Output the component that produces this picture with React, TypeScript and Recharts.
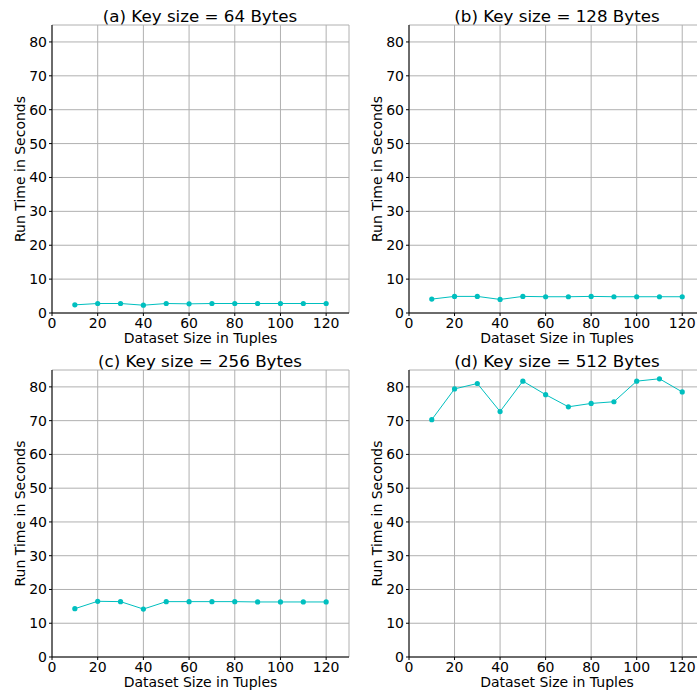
// App.tsx
// Four small line charts: run time vs dataset size, one per key size.

import React from 'react'
import { LineChart, Line, XAxis, YAxis, CartesianGrid } from 'recharts'

const datasetSizes = [10, 20, 30, 40, 50, 60, 70, 80, 90, 100, 110, 120]

const runtime64 = [2.4, 2.8, 2.8, 2.3, 2.8, 2.7, 2.8, 2.8, 2.8, 2.8, 2.8, 2.8]
const runtime128 = [4.1, 4.9, 4.9, 4.0, 4.9, 4.8, 4.8, 4.9, 4.8, 4.8, 4.8, 4.8]
const runtime256 = [14.3, 16.5, 16.4, 14.2, 16.4, 16.4, 16.4, 16.4, 16.3, 16.3, 16.3, 16.3]
const runtime512 = [70.3, 79.4, 81.0, 72.7, 81.7, 77.7, 74.1, 75.1, 75.6, 81.7, 82.4, 78.5]

const xTicks = [0, 20, 40, 60, 80, 100, 120]
const yTicks = [0, 10, 20, 30, 40, 50, 60, 70, 80]

const titles = [
  '(a) Key size = 64 Bytes',
  '(b) Key size = 128 Bytes',
  '(c) Key size = 256 Bytes',
  '(d) Key size = 512 Bytes',
]

const LINE_COLOR = '#00bfbf'
const FONT = 'DejaVu Sans, sans-serif'
const PLOT_WIDTH = 296

interface PanelProps {
  title: string
  values: number[]
  left: number
  top: number
  width: number
  height: number
  marginTop: number
  marginRight: number
  yAxisWidth: number
  xAxisHeight: number
}

function Panel({
  title,
  values,
  left,
  top,
  width,
  height,
  marginTop,
  marginRight,
  yAxisWidth,
  xAxisHeight,
}: PanelProps) {
  const data = datasetSizes.map((size, i) => ({ size, time: values[i] }))
  const tickStyle = { fontSize: 14, fill: '#000', fontFamily: FONT }

  return (
    <div style={{ position: 'absolute', left, top, width, height }}>
      <LineChart
        width={width}
        height={height}
        data={data}
        margin={{ top: marginTop, right: marginRight, bottom: 0, left: 0 }}
        style={{ fontFamily: FONT }}
      >
        <CartesianGrid stroke="#b0b0b0" strokeWidth={1} />
        <XAxis
          dataKey="size"
          type="number"
          domain={[0, 130]}
          ticks={xTicks}
          height={xAxisHeight}
          tick={tickStyle}
          tickSize={3}
          tickMargin={2}
          axisLine={{ stroke: '#000', strokeWidth: 1 }}
          tickLine={{ stroke: '#000' }}
          label={{
            value: 'Dataset Size in Tuples',
            position: 'insideBottom',
            offset: xAxisHeight - 29.5,
            fill: '#000',
            fontSize: 14,
          }}
        />
        <XAxis
          xAxisId="top"
          orientation="top"
          type="number"
          domain={[0, 130]}
          height={0}
          tick={false}
          tickLine={false}
          axisLine={{ stroke: '#000', strokeWidth: 1 }}
        />
        <YAxis
          type="number"
          domain={[0, 85]}
          ticks={yTicks}
          width={yAxisWidth}
          tick={tickStyle}
          tickSize={3}
          tickMargin={2}
          axisLine={{ stroke: '#000', strokeWidth: 1 }}
          tickLine={{ stroke: '#000' }}
          label={{
            value: 'Run Time in Seconds',
            angle: -90,
            position: 'insideLeft',
            offset: yAxisWidth - 32,
            fill: '#000',
            fontSize: 14,
            style: { textAnchor: 'middle' },
          }}
        />
        <YAxis
          yAxisId="right"
          orientation="right"
          type="number"
          domain={[0, 85]}
          width={0}
          tick={false}
          tickLine={false}
          axisLine={{ stroke: '#000', strokeWidth: 1 }}
        />
        <Line
          type="linear"
          dataKey="time"
          stroke={LINE_COLOR}
          strokeWidth={1}
          dot={{ r: 2.6, fill: LINE_COLOR, stroke: LINE_COLOR, strokeWidth: 0 }}
          activeDot={false}
          isAnimationActive={false}
        />
      </LineChart>
      {/* panel title, baseline about 3px above the plot frame */}
      <div
        style={{
          position: 'absolute',
          left: yAxisWidth,
          top: marginTop - 17.3,
          width: PLOT_WIDTH,
          textAlign: 'center',
          fontFamily: FONT,
          fontSize: 16.7,
          lineHeight: '16.7px',
          color: '#000',
          whiteSpace: 'nowrap',
          pointerEvents: 'none',
        }}
      >
        {title}
      </div>
    </div>
  )
}

export default function App() {
  return (
    <div
      style={{
        position: 'absolute',
        left: 0,
        top: 0,
        width: 697,
        height: 693,
        overflow: 'hidden',
        background: '#fff',
      }}
    >
      <Panel title={titles[0]} values={runtime64} left={0} top={0} width={350} height={346}
        marginTop={25} marginRight={1} yAxisWidth={52} xAxisHeight={33} />
      <Panel title={titles[1]} values={runtime128} left={350} top={0} width={360} height={346}
        marginTop={25} marginRight={5} yAxisWidth={59} xAxisHeight={33} />
      <Panel title={titles[2]} values={runtime256} left={0} top={340} width={350} height={353}
        marginTop={30} marginRight={1} yAxisWidth={52} xAxisHeight={36} />
      <Panel title={titles[3]} values={runtime512} left={350} top={340} width={360} height={353}
        marginTop={30} marginRight={5} yAxisWidth={59} xAxisHeight={36} />
    </div>
  )
}
